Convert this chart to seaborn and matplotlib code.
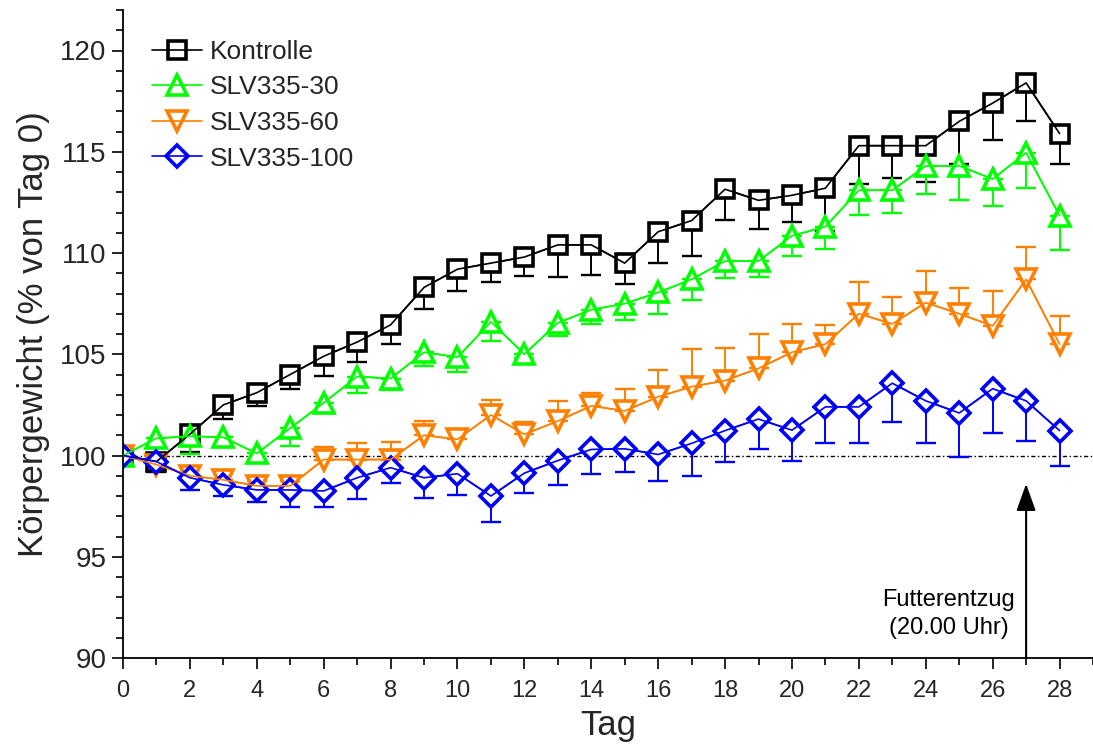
import numpy as np
import pandas as pd
import matplotlib
matplotlib.use("Agg")
import matplotlib.pyplot as plt
from matplotlib.lines import Line2D
from matplotlib.ticker import MultipleLocator
import seaborn as sns

# Body weight relative to day 0 (mean and SEM), days 0..28
days = list(range(29))

kontrolle = [100.0, 99.7, 101.05, 102.5, 103.1, 104.0, 104.9, 105.6, 106.45, 108.3,
             109.2, 109.5, 109.8, 110.4, 110.4, 109.5, 111.05, 111.6, 113.15, 112.6,
             112.85, 113.2, 115.3, 115.3, 115.3, 116.5, 117.4, 118.4, 115.9]
kontrolle_sem = [0.0, 0.5, 0.9, 0.7, 0.65, 0.7, 0.95, 1.0, 0.95, 1.05,
                 1.1, 0.95, 0.95, 1.6, 1.5, 1.05, 1.55, 1.75, 1.5, 1.4,
                 1.3, 2.1, 1.9, 1.6, 1.8, 2.1, 1.8, 1.9, 1.5]

slv30 = [100.0, 100.85, 100.95, 100.9, 100.1, 101.35, 102.6, 103.9, 103.8, 105.1,
         104.85, 106.6, 105.0, 106.55, 107.2, 107.5, 108.05, 108.7, 109.6, 109.6,
         110.85, 111.3, 113.1, 113.1, 114.3, 114.3, 113.65, 114.95, 111.85]
slv30_sem = [0.0, 0.3, 0.9, 0.5, 0.35, 0.9, 0.5, 0.8, 0.55, 0.7,
             0.75, 0.95, 0.2, 0.65, 0.7, 0.8, 1.05, 1.0, 0.85, 0.8,
             1.0, 1.1, 1.2, 1.1, 1.4, 1.7, 1.35, 1.75, 1.7]

slv60 = [100.0, 99.55, 99.0, 98.8, 98.5, 98.5, 99.8, 99.8, 99.8, 101.0,
         100.8, 102.0, 101.05, 101.7, 102.45, 102.2, 102.9, 103.4, 103.7, 104.3,
         105.1, 105.5, 107.0, 106.5, 107.55, 107.0, 106.4, 108.7, 105.5]
slv60_sem = [0.0, 0.3, 0.4, 0.3, 0.25, 0.25, 0.6, 0.8, 0.85, 0.7,
             0.4, 0.75, 0.6, 1.0, 0.65, 1.1, 1.3, 1.85, 1.6, 1.7,
             1.4, 0.95, 1.55, 1.35, 1.55, 1.25, 1.7, 1.6, 1.4]

slv100 = [100.0, 99.7, 98.9, 98.55, 98.3, 98.3, 98.25, 98.9, 99.4, 98.9,
          99.1, 98.0, 99.13, 99.75, 100.3, 100.33, 100.05, 100.6, 101.23, 101.8,
          101.25, 102.4, 102.4, 103.57, 102.7, 102.1, 103.3, 102.7, 101.23]
slv100_sem = [0.0, 0.3, 0.6, 0.55, 0.6, 0.85, 0.8, 1.05, 0.75, 1.0,
              1.05, 1.3, 0.97, 1.23, 1.2, 1.15, 1.3, 1.6, 1.55, 1.5,
              1.5, 1.8, 1.8, 1.9, 2.07, 2.17, 2.17, 2.0, 1.73]

group_names = ["Kontrolle", "SLV335-30", "SLV335-60", "SLV335-100"]
group_means = [kontrolle, slv30, slv60, slv100]
group_sems = [kontrolle_sem, slv30_sem, slv60_sem, slv100_sem]
group_colors = ["#000000", "#00FF00", "#FF8000", "#0000FF"]
group_markers = ["s", "^", "v", "D"]
group_msize = [12.5, 14.0, 14.0, 11.0]
# error bars point away from the curve: down for most groups, up for SLV335-60
group_err_up = [False, False, True, False]

event_day = 27
event_tip = 98.6

plt.rcParams["font.family"] = ["Liberation Sans", "DejaVu Sans"]
sns.set_style("ticks")
plt.rcParams["font.family"] = ["Liberation Sans", "DejaVu Sans"]

fig = plt.figure(figsize=(10.93, 7.49), dpi=100)
ax = fig.add_axes([123 / 1093, 1 - 658 / 749, 970 / 1093, 648 / 749])

frames = []
for name, m in zip(group_names, group_means):
    frames.append(pd.DataFrame({"Tag": days, "Wert": m, "Gruppe": name}))
df = pd.concat(frames, ignore_index=True)

# reference level of day 0
ax.axhline(100, color="black", lw=1.0, ls=(0, (3.0, 1.8, 1.0, 1.8)), zorder=0.5)

for i, name in enumerate(group_names):
    sub = df[df["Gruppe"] == name]
    sem = np.asarray(group_sems[i])
    zeros = np.zeros_like(sem)
    yerr = [zeros, sem] if group_err_up[i] else [sem, zeros]
    ax.errorbar(sub["Tag"], sub["Wert"], yerr=yerr, fmt="none",
                ecolor=group_colors[i], elinewidth=1.4, capsize=7.2, capthick=1.7,
                zorder=1 + i * 0.1)
    # markers with white fill hide the error bar stem inside the symbol
    sns.lineplot(data=sub, x="Tag", y="Wert", ax=ax, color=group_colors[i],
                 marker=group_markers[i], markersize=group_msize[i],
                 markeredgewidth=2.6, markeredgecolor=group_colors[i],
                 markerfacecolor="white", linewidth=1.2, legend=False,
                 zorder=2 + i * 0.1)
for i, name in enumerate(group_names):
    sub = df[df["Gruppe"] == name]
    sns.lineplot(data=sub, x="Tag", y="Wert", ax=ax, color=group_colors[i],
                 linewidth=1.2, legend=False, zorder=3 + i * 0.1)

# food withdrawal marker
ax.annotate("", xy=(event_day, event_tip), xytext=(event_day, 90),
            arrowprops=dict(arrowstyle="-|>,head_length=0.92,head_width=0.33",
                            mutation_scale=18, lw=1.5, color="black",
                            shrinkA=0, shrinkB=0), zorder=4)
ax.text(24.69, 92.16, "Futterentzug\n(20.00 Uhr)", ha="center", va="center",
        fontsize=17, linespacing=1.35, color="black")

ax.set_xlim(0, 29)
ax.set_ylim(90, 122)
ax.xaxis.set_major_locator(MultipleLocator(2))
ax.xaxis.set_minor_locator(MultipleLocator(1))
ax.set_yticks([90, 95, 100, 105, 110, 115, 120])
ax.yaxis.set_minor_locator(MultipleLocator(1))
ax.tick_params(axis="both", which="major", direction="out", length=8, width=1.2,
               color="black")
ax.tick_params(axis="both", which="minor", direction="out", length=5, width=1.2,
               color="black")
ax.tick_params(axis="x", which="major", labelsize=17, pad=8)
ax.tick_params(axis="y", which="major", labelsize=20, pad=4)
for s in ["left", "bottom"]:
    ax.spines[s].set_linewidth(1.3)
    ax.spines[s].set_color("black")
sns.despine(ax=ax)

ax.set_xlabel("Tag", fontsize=25, labelpad=5)
ax.set_ylabel("Körpergewicht (% von Tag 0)", fontsize=25, labelpad=7)

handles = [Line2D([0], [0], color=c, lw=1.2, marker=mk, markersize=ms,
                  markeredgewidth=2.6, markerfacecolor="none", markeredgecolor=c)
           for c, mk, ms in zip(group_colors, group_markers, group_msize)]
ax.legend(handles, group_names, loc="upper left", bbox_to_anchor=(0.030, 0.954),
          frameon=False, fontsize=19, borderpad=0, borderaxespad=0,
          handlelength=1.9, handletextpad=0.3, labelspacing=0.44)

fig.savefig("out.png", dpi=100)
